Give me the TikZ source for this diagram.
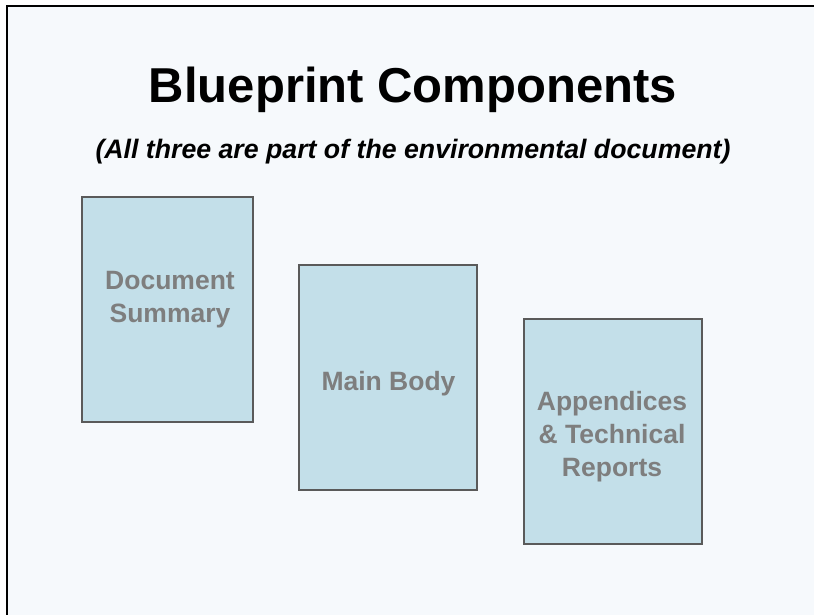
\documentclass[tikz,border=0pt]{standalone}
\usepackage{fontspec}
\setmainfont{Liberation Sans}
\definecolor{pagebg}{HTML}{F6F9FC}
\definecolor{panelfill}{HTML}{C3DFE9}
\definecolor{panelline}{HTML}{5A5A5A}
\definecolor{labelgray}{HTML}{7E7E7E}
\begin{document}
\begin{tikzpicture}[x=1pt,y=-1pt,
  panel/.style={draw=panelline, fill=panelfill, line width=1.5pt,
    rectangle, inner sep=0pt},
  paneltext/.style={anchor=base, inner sep=0pt, text=labelgray,
    font=\bfseries\fontsize{26.5}{33}\selectfont},
  titletext/.style={anchor=base, inner sep=0pt,
    font=\bfseries\fontsize{49}{59}\selectfont},
  subtitletext/.style={anchor=base, inner sep=0pt,
    font=\bfseries\itshape\fontsize{26.7}{32}\selectfont}]
\useasboundingbox (0,0) rectangle (814,615);
\fill[white] (0,0) rectangle (814,615);
\fill[pagebg] (6.5,6) rectangle (814,615);
\draw[black, line width=2pt] (6.5,615) -- (6.5,6) -- (814,6);

% headings
\node[titletext] (title) at (413,103) {Blueprint Components};
\node[subtitletext] (subtitle) at (413,158) {(All three are part of the environmental document)};

% the three parts
\node[panel, minimum width=171, minimum height=225] (summary) at (167.5,309.5) {};
\node[panel, minimum width=178, minimum height=225] (body) at (388,377.5) {};
\node[panel, minimum width=178, minimum height=225] (appendix) at (613,431.5) {};

\node[paneltext] (summary1) at (170,289) {Document};
\node[paneltext] (summary2) at (170,322) {Summary};
\node[paneltext] (body1) at (388.5,390) {Main Body};
\node[paneltext] (appendix1) at (612,410) {Appendices};
\node[paneltext] (appendix2) at (612,443) {\& Technical};
\node[paneltext] (appendix3) at (612,476) {Reports};
\end{tikzpicture}
\end{document}
